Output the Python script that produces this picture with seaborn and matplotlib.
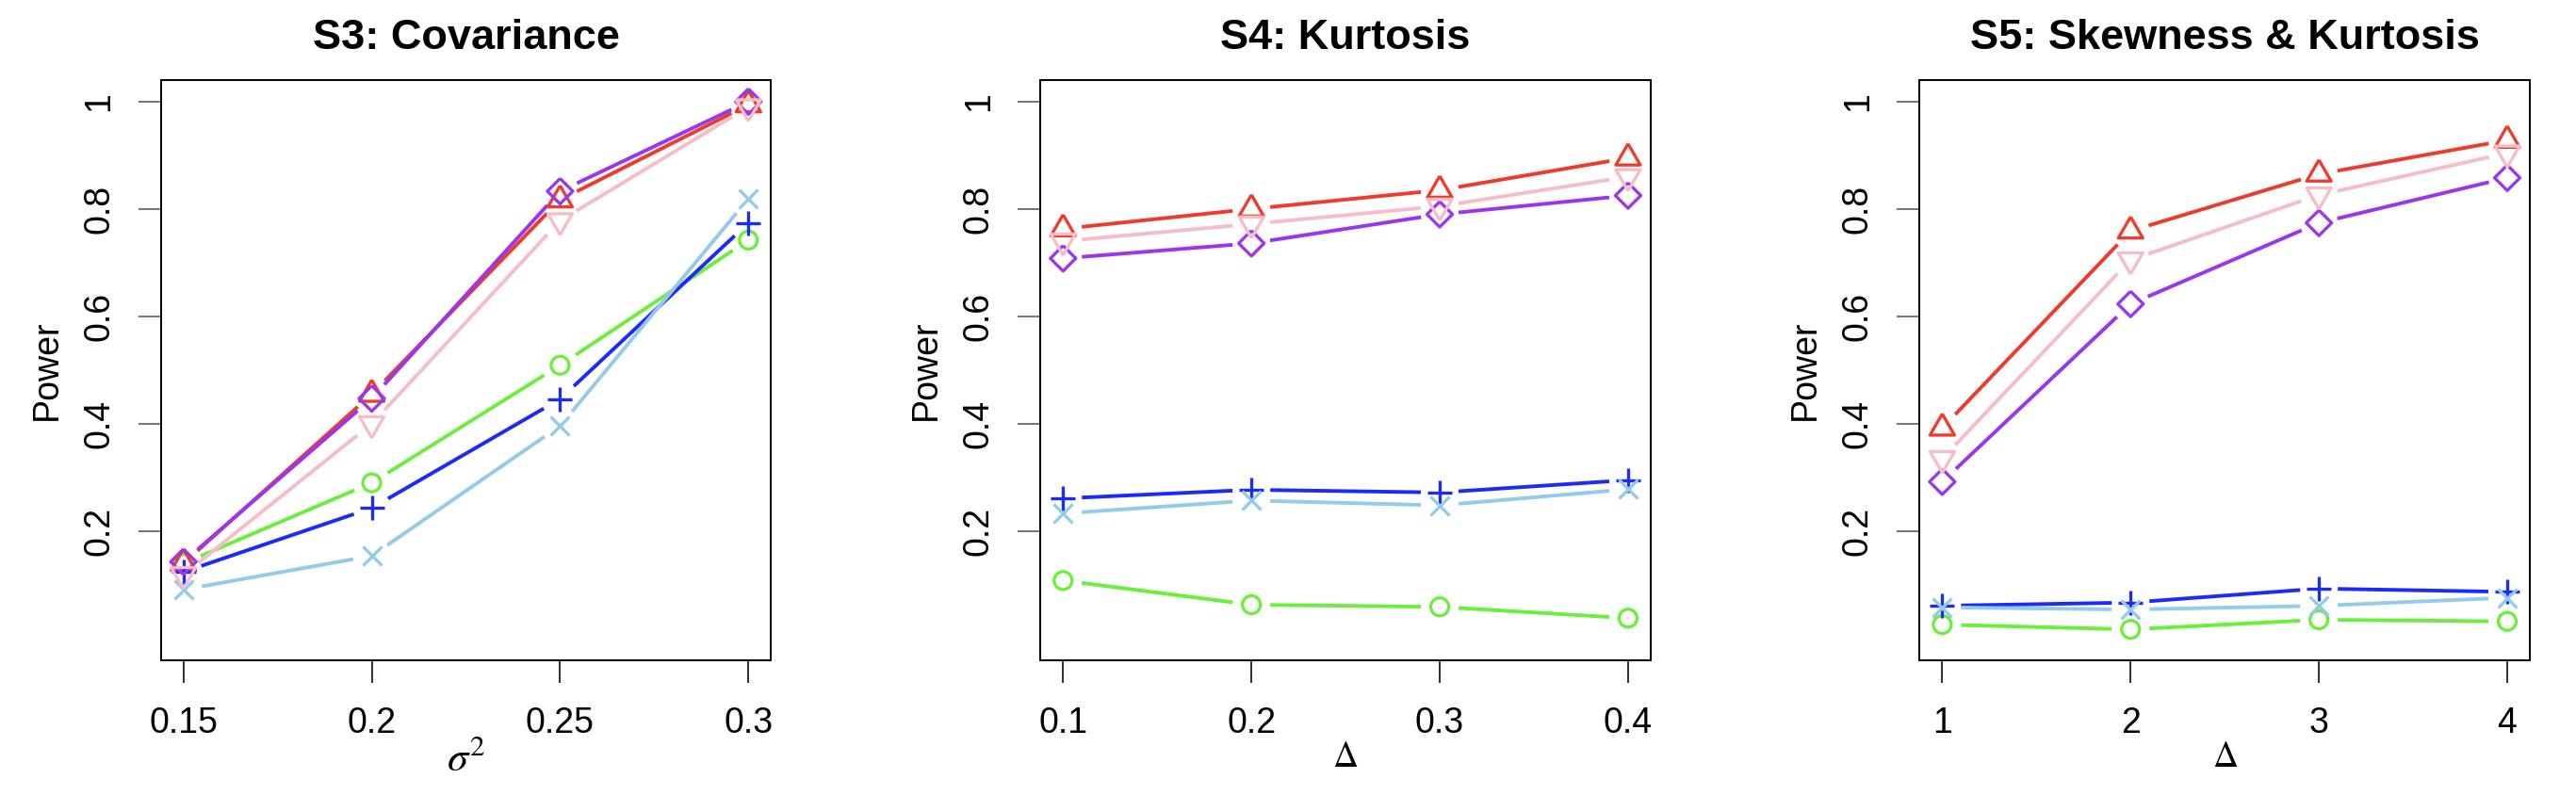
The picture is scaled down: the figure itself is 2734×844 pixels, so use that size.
import numpy as np
import pandas as pd
import matplotlib
matplotlib.use("Agg")
import matplotlib.pyplot as plt
import seaborn as sns

# ---------------- data ----------------
titles = ["S3: Covariance", "S4: Kurtosis", "S5: Skewness & Kurtosis"]
xlabels = [r"$\sigma^2$", r"$\Delta$", r"$\Delta$"]
xlabel_sizes = [32, 27, 27]

s3_x = [0.15, 0.20, 0.25, 0.30]
s3_xticklabels = ["0.15", "0.2", "0.25", "0.3"]
s3_green = [0.140, 0.290, 0.509, 0.742]
s3_red = [0.140, 0.455, 0.817, 0.994]
s3_blue = [0.124, 0.243, 0.446, 0.774]
s3_skyblue = [0.091, 0.154, 0.396, 0.819]
s3_purple = [0.143, 0.447, 0.833, 1.000]
s3_pink = [0.119, 0.400, 0.778, 0.990]

s4_x = [0.1, 0.2, 0.3, 0.4]
s4_xticklabels = ["0.1", "0.2", "0.3", "0.4"]
s4_green = [0.108, 0.063, 0.059, 0.038]
s4_red = [0.763, 0.800, 0.835, 0.895]
s4_blue = [0.261, 0.277, 0.272, 0.295]
s4_skyblue = [0.233, 0.257, 0.248, 0.278]
s4_purple = [0.708, 0.736, 0.790, 0.825]
s4_pink = [0.740, 0.772, 0.805, 0.860]

s5_x = [1, 2, 3, 4]
s5_xticklabels = ["1", "2", "3", "4"]
s5_green = [0.026, 0.017, 0.035, 0.032]
s5_red = [0.392, 0.759, 0.865, 0.928]
s5_blue = [0.061, 0.067, 0.093, 0.087]
s5_skyblue = [0.058, 0.054, 0.061, 0.076]
s5_purple = [0.292, 0.623, 0.774, 0.858]
s5_pink = [0.335, 0.705, 0.826, 0.904]

yticks = [0.2, 0.4, 0.6, 0.8, 1.0]
yticklabels = ["0.2", "0.4", "0.6", "0.8", "1"]

panels = [
    (s3_x, s3_xticklabels, [s3_green, s3_red, s3_blue, s3_skyblue, s3_purple, s3_pink]),
    (s4_x, s4_xticklabels, [s4_green, s4_red, s4_blue, s4_skyblue, s4_purple, s4_pink]),
    (s5_x, s5_xticklabels, [s5_green, s5_red, s5_blue, s5_skyblue, s5_purple, s5_pink]),
]

# ---------------- styles ----------------
colors = ["#6CEE3C", "#EE3B2B", "#1B2BFA", "#93CBE8", "#9A36F0", "#F7BDC6"]
tri_up = [(0, 1), (-0.866, -0.5), (0.866, -0.5), (0, 1)]
tri_dn = [(0, -1), (-0.866, 0.5), (0.866, 0.5), (0, -1)]
diamond = [(0, 1), (1, 0), (0, -1), (-1, 0), (0, 1)]
markers = ["o", tri_up, "+", "x", diamond, tri_dn]
msize_px = [19, 30, 27, 20, 27, 30]   # marker extents in pixels
filled = [True, True, False, False, True, True]

DPI = 100
PX2PT = 72.0 / DPI
sns.set_theme(style="white")
plt.rcParams["font.family"] = ["Liberation Sans", "DejaVu Sans"]
plt.rcParams["mathtext.fontset"] = "stix"
plt.rcParams["text.color"] = "black"
plt.rcParams["axes.labelcolor"] = "black"
plt.rcParams["xtick.labelcolor"] = "black"
plt.rcParams["ytick.labelcolor"] = "black"

fig = plt.figure(figsize=(27.34, 8.44), dpi=DPI)
W, H = 2734.0, 844.0
ax_w, ax_top, ax_bot = 647.6, 85.0, 700.7
lefts = [170.7, 1104.3, 2037.4]

LINE_LW = 3.9 * PX2PT
MARK_LW = 3.3 * PX2PT
GAP = 20.0

for i, (xs, xtl, series) in enumerate(panels):
    ax = fig.add_axes([lefts[i] / W, 1 - ax_bot / H, ax_w / W, (ax_bot - ax_top) / H])
    xr = xs[-1] - xs[0]
    ax.set_xlim(xs[0] - 0.04 * xr, xs[-1] + 0.04 * xr)
    ax.set_ylim(-0.04, 1.04)
    ax.set_xticks(xs)
    ax.set_xticklabels(xtl)
    ax.set_yticks(yticks)
    ax.set_yticklabels(yticklabels, rotation=90, va="center")
    for sp in ax.spines.values():
        sp.set_color("black")
        sp.set_linewidth(2.0 * PX2PT)
    ax.tick_params(axis="both", which="major", direction="out", length=24 * PX2PT,
                   width=2.0 * PX2PT, labelsize=27, bottom=True, left=True,
                   labelcolor="black")
    ax.tick_params(axis="x", pad=18, color="#333333")
    ax.tick_params(axis="y", pad=17, color="#777777")
    ax.set_title(titles[i], fontsize=32.5, fontweight="bold", pad=23.5, color="black")
    ax.grid(False)

    for ys, col, mk, ms, fl in zip(series, colors, markers, msize_px, filled):
        # connecting lines with gaps around the points (R type = "b")
        pts = ax.transData.transform(np.column_stack([xs, ys]))
        inv = ax.transData.inverted()
        for p0, p1 in zip(pts[:-1], pts[1:]):
            d = p1 - p0
            L = np.hypot(d[0], d[1])
            if L <= 2 * GAP:
                continue
            u = d / L
            seg = inv.transform(np.vstack([p0 + u * GAP, p1 - u * GAP]))
            ax.plot(seg[:, 0], seg[:, 1], color=col, lw=LINE_LW,
                    solid_capstyle="butt", zorder=2)
        df = pd.DataFrame({"x": xs, "y": ys})
        s = (ms * PX2PT) ** 2
        if fl:
            sns.scatterplot(data=df, x="x", y="y", ax=ax, marker=mk, s=s,
                            facecolors="none", edgecolor=col, linewidth=MARK_LW,
                            zorder=3, legend=False)
        else:
            sns.scatterplot(data=df, x="x", y="y", ax=ax, marker=mk, s=s,
                            color=col, linewidth=MARK_LW, zorder=3, legend=False)
    ax.set_xlabel(xlabels[i], fontsize=xlabel_sizes[i], labelpad=0, color="black")
    ax.set_ylabel("Power", fontsize=27, labelpad=14, color="black")

fig.savefig("out.png", dpi=DPI)
